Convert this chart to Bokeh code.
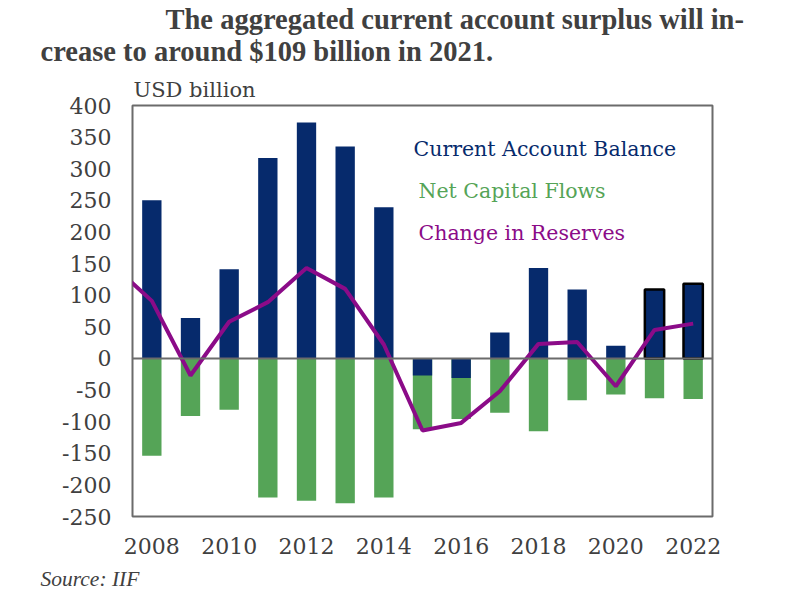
from bokeh.plotting import figure
from bokeh.models import ColumnDataSource, Span, Label, FixedTicker, Range1d, Title, PrintfTickFormatter
from bokeh.embed import file_html
from bokeh.resources import INLINE

years = list(range(2008, 2023))
current_account = [250, 64, 141, 317, 373, 335, 239, -27, -31, 41, 143, 109, 20, 109, 118]
net_capital_flows = [-154, -91, -81, -220, -225, -229, -220, -112, -96, -86, -115, -66, -57, -63, -64]
reserve_years = list(range(2007, 2023))
change_in_reserves = [147, 91, -27, 58, 89, 143, 110, 22, -114, -102, -52, 23, 26, -44, 45, 55]
forecast_years = [2021, 2022]
x_ticks = list(range(2008, 2023, 2))
y_ticks = list(range(-250, 401, 50))

NAVY = "#062A6C"
GREEN = "#55A457"
PURPLE = "#8B0B88"
GRAY = "#404040"

W, H = 800, 600
FL, FR, FT, FB = 132, 712, 105, 516
X0, X1 = 2007.5, 2022.5
Y0, Y1 = -250, 400

p = figure(width=W, height=H, output_backend="svg", toolbar_location=None,
           x_range=Range1d(X0, X1), y_range=Range1d(Y0, Y1),
           min_border_left=FL, min_border_right=W - FR,
           min_border_top=FT, min_border_bottom=H - FB)
p.xgrid.grid_line_color = None
p.ygrid.grid_line_color = None
p.outline_line_color = "#6b6b6b"
p.outline_line_width = 2
p.background_fill_color = "white"
p.border_fill_color = "white"

for ax in (p.xaxis[0], p.yaxis[0]):
    ax.axis_line_color = None
    ax.major_tick_line_color = None
    ax.minor_tick_line_color = None
    ax.major_label_text_font = "DejaVu Serif"
    ax.major_label_text_font_size = "22px"
    ax.major_label_text_color = GRAY
    ax.formatter = PrintfTickFormatter(format="%d")
p.xaxis[0].ticker = FixedTicker(ticks=x_ticks)
p.yaxis[0].ticker = FixedTicker(ticks=y_ticks)
p.xaxis[0].major_label_standoff = 15
p.yaxis[0].major_label_standoff = 15

line_colors = ["black" if y in forecast_years else None for y in years]
src = ColumnDataSource(dict(x=years, ca=current_account, ncf=net_capital_flows, lc=line_colors))
p.vbar(x="x", top=0, bottom="ncf", width=0.5, source=src, fill_color=GREEN, line_color=None)
p.vbar(x="x", top="ca", bottom=0, width=0.5, source=src, fill_color=NAVY,
       line_color="lc", line_width=2.5)

p.add_layout(Span(location=0, dimension="width", line_color="#6b6b6b", line_width=2))
p.line(reserve_years, change_in_reserves, line_color=PURPLE, line_width=4)


def dx(px):
    return X0 + (px - FL) / (FR - FL) * (X1 - X0)


def dy(py):
    return Y1 - (py - FT) / (FB - FT) * (Y1 - Y0)


def add_text(text, px, py, size, color, font="DejaVu Serif", style="normal"):
    p.add_layout(Label(x=dx(px), y=dy(py), text=text, text_font=font,
                       text_font_size=size, text_color=color, text_font_style=style,
                       text_baseline="middle", text_align="left"))


add_text("Current Account Balance", 413, 148, "20.5px", NAVY)
add_text("Net Capital Flows", 418, 190, "20.5px", GREEN)
add_text("Change in Reserves", 418, 232, "20.5px", PURPLE)


def add_title(text, px, place, size, font="DejaVu Serif", style="normal", standoff=0):
    p.add_layout(Title(text=text, align="left", offset=px - FL, text_font=font,
                       text_font_size=size, text_font_style=style, text_color=GRAY,
                       standoff=standoff), place)


add_title("USD billion", 133, "above", "21px", standoff=8)
add_title("crease to around $109 billion in 2021.", 40, "above", "28.5px",
          font="Liberation Serif", style="bold", standoff=9)
add_title("The aggregated current account surplus will in-", 165, "above", "28.5px",
          font="Liberation Serif", style="bold", standoff=-11)
add_title("Source: IIF", 40, "below", "21.5px", font="Liberation Serif", style="italic", standoff=17)

open("out.html", "w").write(file_html(p, INLINE))
